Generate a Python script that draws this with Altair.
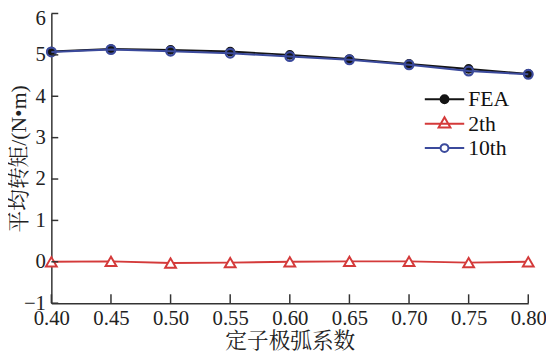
import altair as alt
import pandas as pd

# ---- data ----
coef = [0.40, 0.45, 0.50, 0.55, 0.60, 0.65, 0.70, 0.75, 0.80]
fea = [5.08, 5.14, 5.12, 5.08, 5.00, 4.90, 4.78, 4.66, 4.54]
h2 = [0.00, 0.01, -0.03, -0.02, 0.00, 0.01, 0.01, -0.02, 0.00]
h10 = [5.07, 5.13, 5.09, 5.04, 4.96, 4.88, 4.76, 4.61, 4.53]
series_names = ["FEA", "2th", "10th"]
x_ticks = [0.40, 0.45, 0.50, 0.55, 0.60, 0.65, 0.70, 0.75, 0.80]
y_ticks = [-1, 0, 1, 2, 3, 4, 5, 6]

colors = {"FEA": "#141414", "2th": "#d43a3a", "10th": "#3b4a9c"}
W, H = 484, 294
LATIN = "Liberation Serif"
MIXED = "Liberation Serif, Noto Serif CJK SC, Noto Sans CJK SC"

rows = []
for name, vals in zip(series_names, [fea, h2, h10]):
    for c, v in zip(coef, vals):
        rows.append({"coef": c, "torque": v, "series": name})
df = pd.DataFrame(rows)

xscale = alt.Scale(domain=[0.4, 0.8], nice=False, zero=False)
yscale = alt.Scale(domain=[-1, 6], nice=False, zero=False)

XT = "定子极弧系数"
YT = "平均转矩/(N•m)"
xaxis = alt.Axis(values=x_ticks, format=".2f", title=XT)
yaxis = alt.Axis(values=y_ticks, format="d", title=YT,
                 labelOffset=alt.condition("datum.value == 6", alt.value(5), alt.value(0)),
                 titleX=-21, titleY=H / 2, titleBaseline="bottom", titleAngle=270)

base = alt.Chart(df)

layers = []
point_styles = {
    "FEA": dict(shape="circle", filled=True, fill=colors["FEA"], stroke=colors["FEA"], size=70, strokeWidth=1.5),
    "2th": dict(shape="triangle-up", filled=True, fill="#ffffff", stroke=colors["2th"], size=120, strokeWidth=2),
    "10th": dict(shape="circle", filled=False, stroke=colors["10th"], size=80, strokeWidth=2.2),
}
for name in series_names:
    sub = base.transform_filter(alt.datum.series == name)
    line = sub.mark_line(color=colors[name], strokeWidth=2).encode(
        x=alt.X("coef:Q", scale=xscale, axis=xaxis),
        y=alt.Y("torque:Q", scale=yscale, axis=yaxis),
    )
    pts = sub.mark_point(opacity=1, **point_styles[name]).encode(
        x=alt.X("coef:Q", scale=xscale, axis=xaxis),
        y=alt.Y("torque:Q", scale=yscale, axis=yaxis),
    )
    layers += [line, pts]

# legend-only layer (no marks drawn)
leg_paths = [
    "M-2,0H2M0.4,0A0.4,0.4 0 1 1 -0.4,0A0.4,0.4 0 1 1 0.4,0Z",
    "M-2,0H2M0,-0.64L0.6,0.4L-0.6,0.4Z",
    "M-2,0H-0.4M0.4,0H2M0.4,0A0.4,0.4 0 1 1 -0.4,0A0.4,0.4 0 1 1 0.4,0Z",
]
legend = alt.Legend(title=None, orient="none", legendX=388, legendY=76,
                    symbolSize=400, symbolStrokeWidth=2, symbolOpacity=1,
                    labelFont=LATIN, labelFontSize=22, labelColor="#111",
                    labelOffset=13, rowPadding=2.8)
leg_layer = base.transform_filter("false").mark_point(opacity=1, filled=True).encode(
    x=alt.X("coef:Q", scale=xscale, axis=xaxis),
    y=alt.Y("torque:Q", scale=yscale, axis=yaxis),
    shape=alt.Shape("series:N", scale=alt.Scale(domain=series_names, range=leg_paths), legend=legend),
    fill=alt.Fill("series:N", scale=alt.Scale(domain=series_names, range=[colors["FEA"], "#ffffff", "#ffffff"]), legend=legend),
    stroke=alt.Stroke("series:N", scale=alt.Scale(domain=series_names, range=[colors[n] for n in series_names]), legend=legend),
)
layers.append(leg_layer)

# inward ticks
ytick_df = pd.DataFrame({"torque": y_ticks})
xtick_df = pd.DataFrame({"coef": x_ticks})
ytk = alt.Chart(ytick_df).mark_rule(color="#333", strokeWidth=1.5).encode(
    y=alt.Y("torque:Q", scale=yscale, axis=yaxis), x=alt.value(0), x2=alt.value(7))
xtk = alt.Chart(xtick_df).mark_rule(color="#333", strokeWidth=1.5).encode(
    x=alt.X("coef:Q", scale=xscale, axis=xaxis), y=alt.value(H), y2=alt.value(H - 9))
layers += [ytk, xtk]

chart = alt.layer(*layers).properties(
    width=W, height=H,
    padding={"left": 44, "top": 3, "right": 18, "bottom": 49},
    autosize=alt.AutoSizeParams(type="none"),
    background="white",
).configure_view(stroke=None).configure_axis(
    tickSize=0, labelFont=LATIN, labelFontSize=21, labelColor="#222",
    titleFont=MIXED, titleFontSize=22, titleFontWeight="normal", titleColor="#222",
    domainColor="#333", domainWidth=1.5, grid=False, labelFlush=False,
).configure_axisX(labelPadding=5, titlePadding=2).configure_axisY(labelPadding=6)

chart.save("out.html", embed_options={"renderer": "svg", "actions": False})
